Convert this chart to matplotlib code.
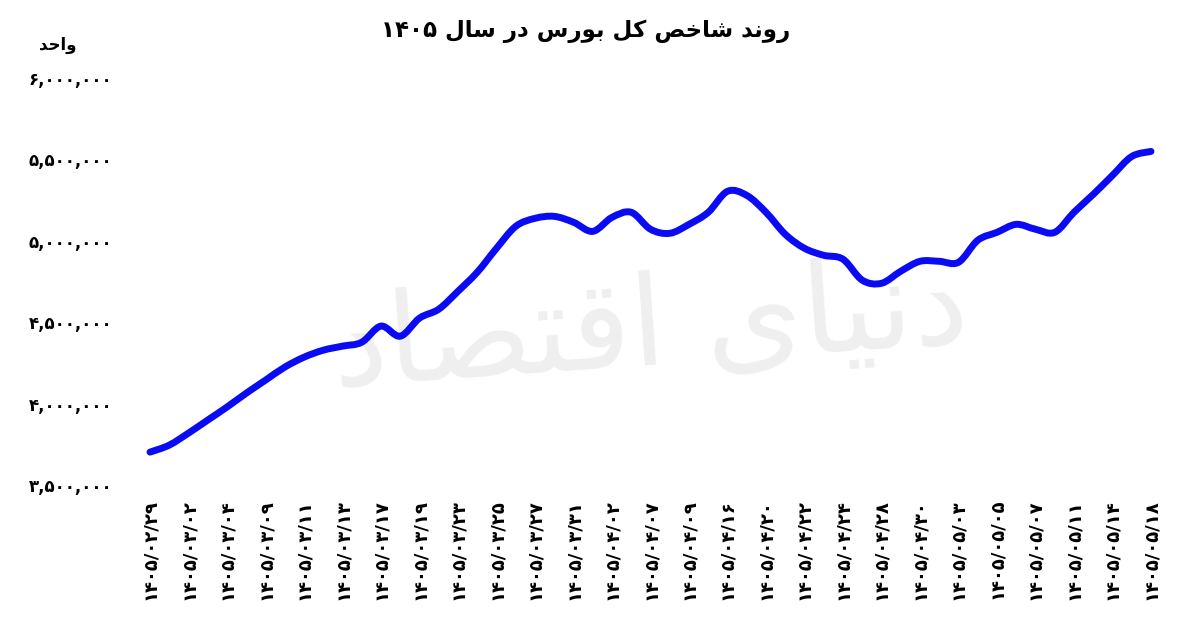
import re

import matplotlib
matplotlib.use("Agg")
import matplotlib.pyplot as plt
from matplotlib.path import Path
from matplotlib.patches import PathPatch
from matplotlib.ticker import FixedLocator, FuncFormatter

# labelled dates (every second trading day is labelled)
dates = [
    "1405/02/29", "1405/03/02", "1405/03/04", "1405/03/09", "1405/03/11",
    "1405/03/13", "1405/03/17", "1405/03/19", "1405/03/23", "1405/03/25",
    "1405/03/27", "1405/03/31", "1405/04/02", "1405/04/07", "1405/04/09",
    "1405/04/16", "1405/04/20", "1405/04/22", "1405/04/24", "1405/04/28",
    "1405/04/30", "1405/05/03", "1405/05/05", "1405/05/07", "1405/05/11",
    "1405/05/14", "1405/05/18",
]

# index value for every trading day
index_values = [
    3702000, 3745000, 3819000, 3899000, 3979000, 4064000, 4144000, 4224000,
    4285000, 4328000, 4353000, 4377000, 4476000, 4414000, 4525000, 4580000,
    4690000, 4807000, 4954000, 5089000, 5138000, 5150000, 5114000, 5058000,
    5144000, 5175000, 5071000, 5046000, 5101000, 5175000, 5304000, 5279000,
    5175000, 5040000, 4954000, 4911000, 4887000, 4758000, 4739000, 4813000,
    4874000, 4874000, 4868000, 5003000, 5052000, 5101000, 5071000, 5052000,
    5175000, 5285000, 5402000, 5518000, 5549000,
]

y_ticks = [3500000, 4000000, 4500000, 5000000, 5500000, 6000000]

title = "روند شاخص کل بورس در سال 1405"
unit = "واحد"
watermark = "دنیای اقتصاد"

FA_DIGITS = str.maketrans("0123456789", "۰۱۲۳۴۵۶۷۸۹")

# presentation forms: isolated, final, initial, medial
FORMS = {
    "ا": ("\uFE8D", "\uFE8E", None, None),
    "ب": ("\uFE8F", "\uFE90", "\uFE91", "\uFE92"),
    "ت": ("\uFE95", "\uFE96", "\uFE97", "\uFE98"),
    "ح": ("\uFEA1", "\uFEA2", "\uFEA3", "\uFEA4"),
    "خ": ("\uFEA5", "\uFEA6", "\uFEA7", "\uFEA8"),
    "د": ("\uFEA9", "\uFEAA", None, None),
    "ر": ("\uFEAD", "\uFEAE", None, None),
    "س": ("\uFEB1", "\uFEB2", "\uFEB3", "\uFEB4"),
    "ش": ("\uFEB5", "\uFEB6", "\uFEB7", "\uFEB8"),
    "ص": ("\uFEB9", "\uFEBA", "\uFEBB", "\uFEBC"),
    "ق": ("\uFED5", "\uFED6", "\uFED7", "\uFED8"),
    "ک": ("\uFB8E", "\uFB8F", "\uFEDB", "\uFEDC"),
    "ل": ("\uFEDD", "\uFEDE", "\uFEDF", "\uFEE0"),
    "ن": ("\uFEE5", "\uFEE6", "\uFEE7", "\uFEE8"),
    "و": ("\uFEED", "\uFEEE", None, None),
    "ی": ("\uFEEF", "\uFEF0", "\uFEF3", "\uFEF4"),
}


def fa(text):
    # join letters and put them in visual (right-to-left) order
    text = text.translate(FA_DIGITS)
    out = []
    for i, ch in enumerate(text):
        if ch not in FORMS:
            out.append(ch)
            continue
        prev = text[i - 1] if i > 0 else ""
        nxt = text[i + 1] if i + 1 < len(text) else ""
        jp = prev in FORMS and FORMS[prev][2] is not None
        jn = nxt in FORMS and FORMS[ch][2] is not None
        isol, fin, ini, med = FORMS[ch]
        if jp and jn:
            out.append(med)
        elif jp:
            out.append(fin)
        elif jn:
            out.append(ini)
        else:
            out.append(isol)
    s = "".join(out)[::-1]
    return re.sub(r"[۰-۹]+", lambda m: m.group(0)[::-1], s)


def smooth_path(xs, ys):
    # cubic bezier segments through every point (catmull-rom tangents)
    n = len(xs)
    verts = [(xs[0], ys[0])]
    codes = [Path.MOVETO]
    for i in range(n - 1):
        i0 = max(i - 1, 0)
        i3 = min(i + 2, n - 1)
        c1 = (xs[i] + (xs[i + 1] - xs[i0]) / 6, ys[i] + (ys[i + 1] - ys[i0]) / 6)
        c2 = (xs[i + 1] - (xs[i3] - xs[i]) / 6,
              ys[i + 1] - (ys[i3] - ys[i]) / 6)
        verts += [c1, c2, (xs[i + 1], ys[i + 1])]
        codes += [Path.CURVE4] * 3
    return Path(verts, codes)


plt.rcParams["font.family"] = ["DejaVu Sans"]

fig = plt.figure(figsize=(12, 6.23), dpi=100)
ax = fig.add_axes([140.4 / 1200, 138 / 623, 1020.2 / 1200, 407 / 623])

x = list(range(len(index_values)))
line = PathPatch(smooth_path(x, index_values), facecolor="none",
                 edgecolor="#0a0af5", linewidth=5.0, capstyle="round",
                 joinstyle="round", zorder=3)
ax.add_patch(line)

ax.set_xlim(-0.5, len(index_values) - 0.5)
ax.set_ylim(y_ticks[0], y_ticks[-1])

ax.xaxis.set_major_locator(FixedLocator(list(range(0, len(index_values), 2))))
ax.set_xticklabels([d.translate(FA_DIGITS) for d in dates], rotation=90,
                   fontsize=13, fontweight="bold", va="top", ha="center")
ax.set_yticks(y_ticks)
ax.yaxis.set_major_formatter(
    FuncFormatter(lambda v, p: f"{int(v):,}".translate(FA_DIGITS)))
for lab in ax.get_yticklabels():
    lab.set_fontsize(12)
    lab.set_fontweight("bold")

ax.tick_params(axis="both", length=0)
ax.tick_params(axis="x", pad=10)
ax.tick_params(axis="y", pad=20)
for sp in ax.spines.values():
    sp.set_visible(False)

ax.text(0.5, 0.38, fa(watermark), transform=ax.transAxes, fontsize=90,
        color="#efefef", ha="center", va="center", rotation=4, zorder=1)

fig.text(0.488, 1 - 31 / 623, fa(title), fontsize=16.5, fontweight="bold",
         ha="center", va="center")
fig.text(58 / 1200, 1 - 45 / 623, fa(unit), fontsize=12, fontweight="bold",
         ha="center", va="center")

plt.savefig("out.png", dpi=100, facecolor="white")
